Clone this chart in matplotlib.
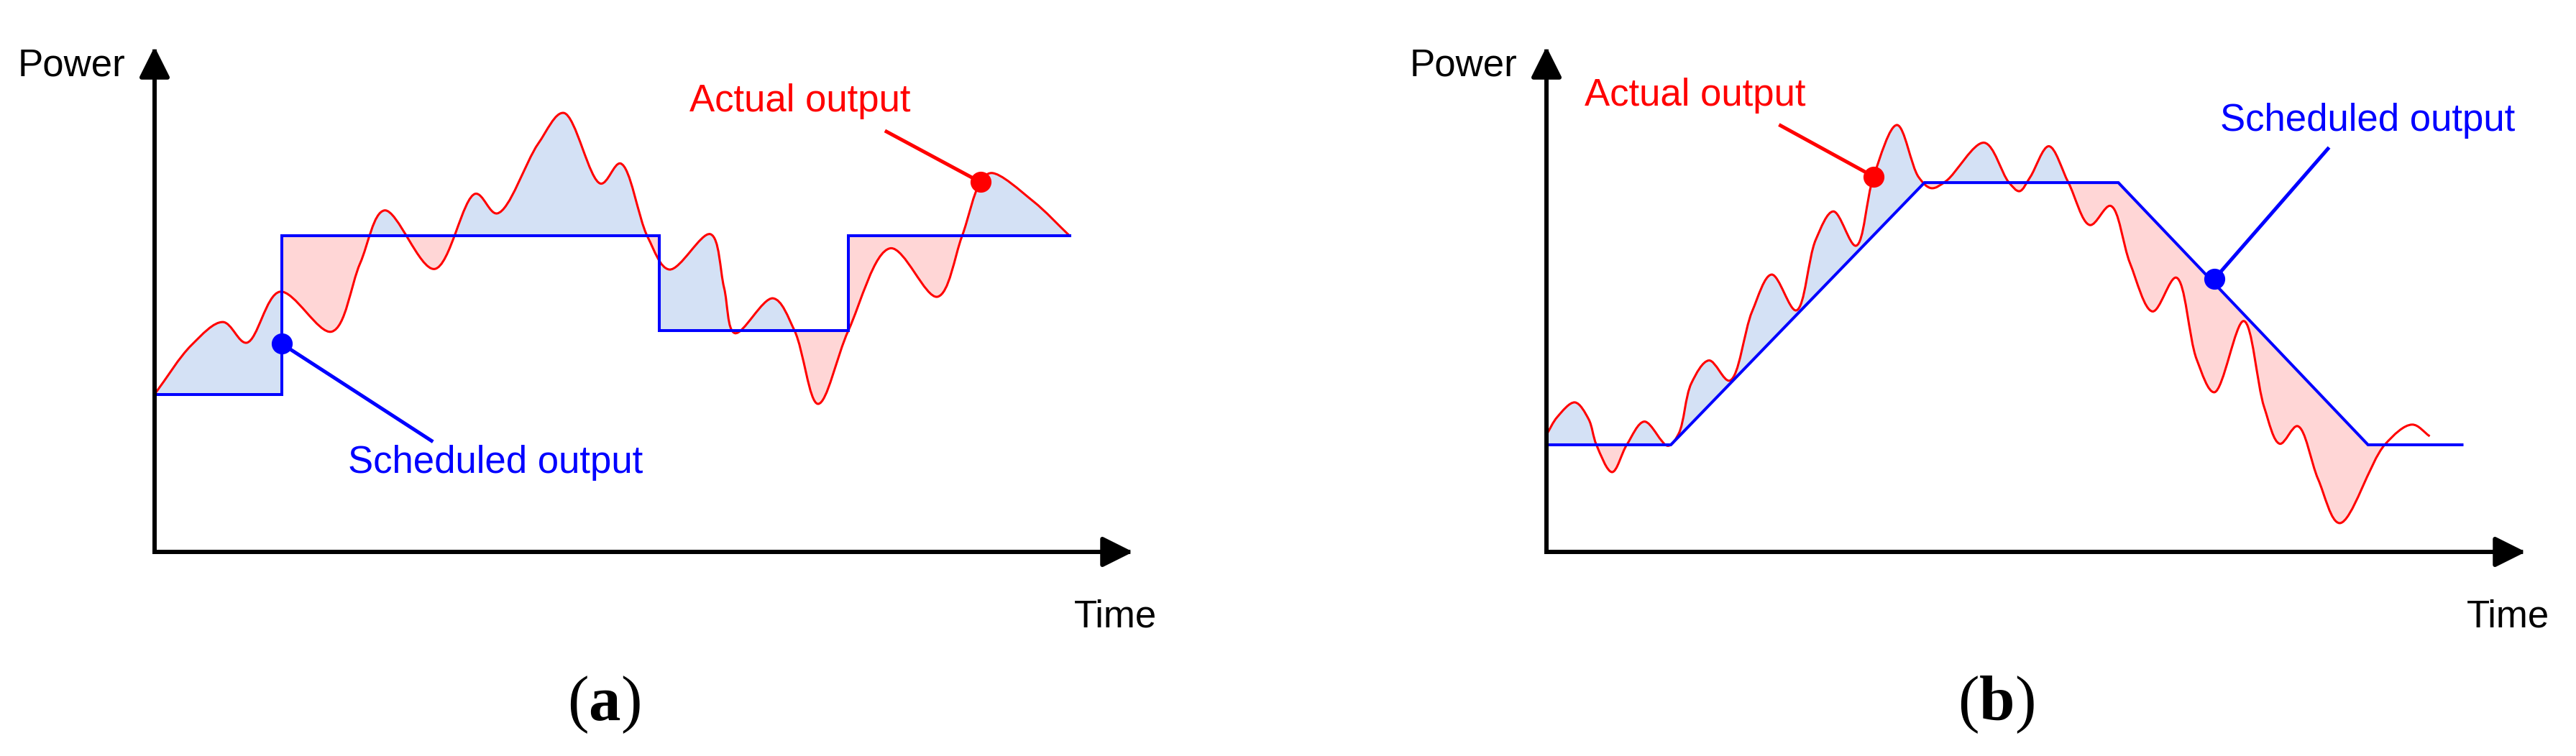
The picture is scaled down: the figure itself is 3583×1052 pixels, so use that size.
import numpy as np
import matplotlib
matplotlib.use("Agg")
import matplotlib.pyplot as plt
from matplotlib.path import Path
from matplotlib.patches import PathPatch, FancyArrowPatch, ArrowStyle

# ---- panel (a): step schedule ----
a_step_edges = [0, 13.0, 51.6, 70.9, 93.5]
a_step_levels = [31.2, 62.6, 43.8, 62.6]
a_actual_t = [0, 3.8, 7.0, 9.4, 12.8, 18.1, 21.0, 23.5, 28.6, 32.8,
              35.0, 39.2, 41.8, 45.6, 47.6, 50.4, 52.6, 56.8, 58.2, 59.3,
              63.2, 65.4, 67.8, 70.9, 75.2, 80.0, 82.5, 84.4, 85.5, 89.8, 93.5]
a_actual_p = [31.2, 41.0, 45.5, 41.4, 51.5, 43.6, 57.1, 67.6, 56.0, 70.9,
              67.0, 80.8, 86.9, 72.9, 76.9, 62.3, 55.9, 62.9, 52.3, 43.3,
              50.2, 43.8, 29.3, 43.8, 60.1, 50.5, 62.4, 73.2, 75.0, 69.4, 62.6]
a_red_dot = [84.4, 73.2]
a_red_lead = [74.8, 83.2]
a_blue_dot = [13.0, 41.2]
a_blue_lead = [28.3, 22.0]
a_fill_end = 93.5

# ---- panel (b): ramp schedule ----
b_sched_t = [0, 12.7, 38.6, 58.4, 83.9, 93.5]
b_sched_p = [21.2, 21.2, 73.1, 73.1, 21.2, 21.2]
b_actual_t = [0, 1.1, 2.9, 4.3, 5.1, 6.7, 8.2, 10.0, 12.4, 13.5,
              14.8, 16.6, 18.7, 21.0, 23.0, 25.5, 27.5, 29.3, 31.6, 33.4,
              35.8, 38.0, 39.3, 40.8, 44.7, 47.2, 48.3, 49.4, 51.3, 53.3,
              55.5, 57.6, 59.6, 61.9, 64.3, 66.4, 68.2, 71.2, 73.3, 74.9,
              76.7, 78.8, 81.0, 85.6, 88.4, 90.2]
b_actual_p = [23.2, 26.7, 29.6, 26.3, 21.2, 15.8, 21.2, 25.8, 21.0, 23.4,
              33.4, 37.9, 33.9, 47.6, 54.9, 47.8, 61.8, 67.4, 60.6, 74.3,
              84.5, 74.2, 72.0, 73.4, 81.0, 73.2, 71.4, 74.2, 80.3, 73.1,
              64.7, 68.5, 57.1, 47.6, 54.3, 38.1, 31.6, 45.7, 28.6, 21.4,
              24.9, 14.4, 5.7, 21.2, 25.2, 22.9]
b_red_dot = [33.4, 74.3]
b_red_lead = [23.9, 84.4]
b_blue_dot = [68.2, 54.0]
b_blue_lead = [79.8, 79.8]
b_fill_end = 85.6

BLUE_FILL = "#D4E1F5"
PINK_FILL = "#FFD6D6"
SANS = "Liberation Sans"
ASPECT = 1.94  # one time unit is about 1.94 power units on screen

plt.rcParams["mathtext.fontset"] = "custom"
plt.rcParams["mathtext.rm"] = "Liberation Serif"
plt.rcParams["mathtext.bf"] = "Liberation Serif:bold"


def smooth_curve(ts, ps):
    # centripetal catmull-rom through the read points, as bezier segments
    pts = np.column_stack([ts, ps]).astype(float)
    ext = np.vstack([2 * pts[0] - pts[1], pts, 2 * pts[-1] - pts[-2]])
    scr = ext * [ASPECT, 1.0]
    verts = [pts[0]]
    codes = [Path.MOVETO]
    for i in range(1, len(ext) - 2):
        p0, p1, p2, p3 = ext[i - 1], ext[i], ext[i + 1], ext[i + 2]
        d0 = np.linalg.norm(scr[i] - scr[i - 1]) ** 0.5
        d1 = np.linalg.norm(scr[i + 1] - scr[i]) ** 0.5
        d2 = np.linalg.norm(scr[i + 2] - scr[i + 1]) ** 0.5
        m1 = d1 * ((p1 - p0) / d0 - (p2 - p0) / (d0 + d1) + (p2 - p1) / d1)
        m2 = d1 * ((p2 - p1) / d1 - (p3 - p1) / (d1 + d2) + (p3 - p2) / d2)
        verts += [p1 + m1 / 3, p2 - m2 / 3, p2]
        codes += [Path.CURVE4] * 3
    return verts, codes


def closed(verts, codes, t_end, t_start, level):
    v = list(verts) + [(t_end, level), (t_start, level), (t_start, level)]
    c = list(codes) + [Path.LINETO, Path.LINETO, Path.CLOSEPOLY]
    return Path(v, c)


def draw_panel(ax, sched_t, sched_p, act_t, act_p, fill_end,
               red_dot, red_lead, blue_dot, blue_lead,
               red_text_xy, blue_text_xy, letter):
    ax.set_xlim(0, 100)
    ax.set_ylim(0, 100)
    ax.set_axis_off()

    verts, codes = smooth_curve(act_t, act_p)
    under = closed(verts, codes, act_t[-1], act_t[0], -5)
    over = closed(verts, codes, act_t[-1], act_t[0], 105)

    st = np.array(sched_t, float)
    sp = np.array(sched_p, float)
    keep = st < fill_end
    ft = np.append(st[keep], fill_end)
    fp = np.append(sp[keep], np.interp(fill_end, st, sp))
    sv = list(zip(ft, fp))
    sc = [Path.MOVETO] + [Path.LINETO] * (len(sv) - 1)
    above = closed(sv, sc, ft[-1], ft[0], 105)
    below = closed(sv, sc, ft[-1], ft[0], -5)

    for region, clip_region, col in [(under, above, BLUE_FILL), (over, below, PINK_FILL)]:
        patch = PathPatch(region, fc=col, ec="none", transform=ax.transData, zorder=1)
        ax.add_patch(patch)
        patch.set_clip_path(PathPatch(clip_region, transform=ax.transData))

    ax.add_patch(PathPatch(Path(verts, codes), fc="none", ec="#FF0000", lw=2.2, zorder=3))
    ax.plot(sched_t, sched_p, color="#0000FF", lw=2.9, zorder=4, solid_joinstyle="miter")

    ax.plot([red_dot[0], red_lead[0]], [red_dot[1], red_lead[1]], color="#FF0000", lw=3.6, zorder=5)
    ax.plot(*red_dot, "o", color="#FF0000", ms=20, zorder=6)
    ax.plot([blue_dot[0], blue_lead[0]], [blue_dot[1], blue_lead[1]], color="#0000FF", lw=3.6, zorder=5)
    ax.plot(*blue_dot, "o", color="#0000FF", ms=20, zorder=6)

    ax.text(*red_text_xy, "Actual output", color="#FF0000", fontsize=38, family=SANS,
            ha="left", va="baseline")
    ax.text(*blue_text_xy, "Scheduled output", color="#0000FF", fontsize=38, family=SANS,
            ha="left", va="baseline")

    # axes with arrow heads
    style = ArrowStyle("-|>", head_length=26, head_width=13)
    for end in [(100, 0), (0, 100)]:
        arr = FancyArrowPatch((0, 0), end, arrowstyle=style, mutation_scale=1, lw=4.3,
                              color="black", shrinkA=0, shrinkB=0, capstyle="projecting",
                              transform=ax.transData, clip_on=False, zorder=7)
        ax.add_patch(arr)

    ax.text(-3.0, 94.3, "Power", fontsize=38, family=SANS, ha="right", va="baseline")
    ax.text(94.0, -14.8, "Time", fontsize=38, family=SANS, ha="left", va="baseline")
    ax.text(45.9, -33.3, r"($\mathbf{%s}$)" % letter, fontsize=64, family="Liberation Serif",
            ha="center", va="baseline")


fig = plt.figure(figsize=(35.83, 10.52), dpi=100)
ax_a = fig.add_axes([0.06001, 0.26996, 0.37985, 0.66825])
ax_b = fig.add_axes([0.60034, 0.26996, 0.38013, 0.66825])

a_sched_t = np.repeat(a_step_edges, 2)[1:-1]
a_sched_p = np.repeat(a_step_levels, 2)

draw_panel(ax_a, a_sched_t, a_sched_p, a_actual_t, a_actual_p, a_fill_end,
           a_red_dot, a_red_lead, a_blue_dot, a_blue_lead,
           (54.7, 87.2), (19.8, 15.7), "a")
draw_panel(ax_b, b_sched_t, b_sched_p, b_actual_t, b_actual_p, b_fill_end,
           b_red_dot, b_red_lead, b_blue_dot, b_blue_lead,
           (3.9, 88.4), (68.8, 83.3), "b")

fig.savefig("out.png", dpi=100, facecolor="white")
